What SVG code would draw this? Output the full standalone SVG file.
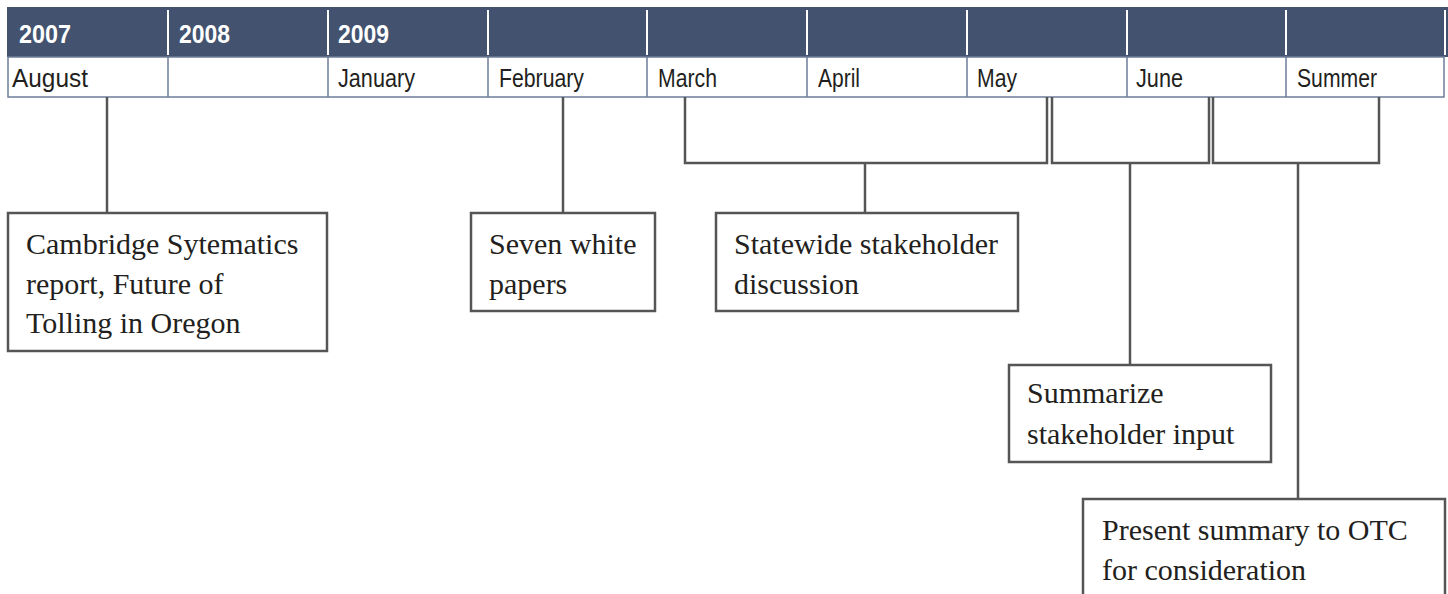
<svg xmlns="http://www.w3.org/2000/svg" width="1448" height="594" viewBox="0 0 1448 594">
<style>
.band{fill:#43536f}
.bdiv{stroke:#ffffff;stroke-width:2}
.row{fill:#ffffff;stroke:#6d7d98;stroke-width:1.5}
.rdiv{stroke:#6d7d98;stroke-width:1.5}
.yr{font-family:"Liberation Sans Narrow","Liberation Sans",Arial,sans-serif;font-size:26px;font-weight:bold;fill:#ffffff}
.mo{font-family:"Liberation Sans Narrow","Liberation Sans",Arial,sans-serif;font-size:26px;fill:#231f20}
.conn{fill:none;stroke:#555555;stroke-width:2.5}
.box{fill:#ffffff;stroke:#555555;stroke-width:2.5}
.bt{font-family:"Liberation Serif","Times New Roman",serif;font-size:30px;fill:#231f20}
</style>
<g id="header">
<rect class="band" x="7" y="7" width="1441" height="50"/>
<g>
<line class="bdiv" x1="168" y1="10" x2="168" y2="55"/>
<line class="bdiv" x1="328" y1="10" x2="328" y2="55"/>
<line class="bdiv" x1="488" y1="10" x2="488" y2="55"/>
<line class="bdiv" x1="647" y1="10" x2="647" y2="55"/>
<line class="bdiv" x1="807" y1="10" x2="807" y2="55"/>
<line class="bdiv" x1="967" y1="10" x2="967" y2="55"/>
<line class="bdiv" x1="1127" y1="10" x2="1127" y2="55"/>
<line class="bdiv" x1="1286" y1="10" x2="1286" y2="55"/>
<line class="bdiv" x1="1445" y1="10" x2="1445" y2="55"/>
</g>
<text class="yr" x="19" y="43" textLength="52" lengthAdjust="spacingAndGlyphs">2007</text>
<text class="yr" x="179" y="43" textLength="51" lengthAdjust="spacingAndGlyphs">2008</text>
<text class="yr" x="338" y="43" textLength="51" lengthAdjust="spacingAndGlyphs">2009</text>
<rect class="row" x="8" y="57" width="1436" height="40"/>
<line class="rdiv" x1="168" y1="57" x2="168" y2="97"/>
<line class="rdiv" x1="328" y1="57" x2="328" y2="97"/>
<line class="rdiv" x1="488" y1="57" x2="488" y2="97"/>
<line class="rdiv" x1="647" y1="57" x2="647" y2="97"/>
<line class="rdiv" x1="807" y1="57" x2="807" y2="97"/>
<line class="rdiv" x1="967" y1="57" x2="967" y2="97"/>
<line class="rdiv" x1="1127" y1="57" x2="1127" y2="97"/>
<line class="rdiv" x1="1286" y1="57" x2="1286" y2="97"/>
<text class="mo" x="12" y="87" textLength="76" lengthAdjust="spacingAndGlyphs">August</text>
<text class="mo" x="338" y="87" textLength="77" lengthAdjust="spacingAndGlyphs">January</text>
<text class="mo" x="499" y="87" textLength="85" lengthAdjust="spacingAndGlyphs">February</text>
<text class="mo" x="658" y="87" textLength="59" lengthAdjust="spacingAndGlyphs">March</text>
<text class="mo" x="818" y="87" textLength="42" lengthAdjust="spacingAndGlyphs">April</text>
<text class="mo" x="977" y="87" textLength="40" lengthAdjust="spacingAndGlyphs">May</text>
<text class="mo" x="1136" y="87" textLength="47" lengthAdjust="spacingAndGlyphs">June</text>
<text class="mo" x="1297" y="87" textLength="80" lengthAdjust="spacingAndGlyphs">Summer</text>
</g>
<g id="connectors">
<path class="conn" d="M107 97 V213"/>
<path class="conn" d="M563 97 V213"/>
<path class="conn" d="M685 97 V163 H1047 V97"/>
<path class="conn" d="M865 163 V213"/>
<path class="conn" d="M1052 97 V163 H1209 V97"/>
<path class="conn" d="M1130 163 V365"/>
<path class="conn" d="M1213 97 V163 H1379 V97"/>
<path class="conn" d="M1298 163 V499"/>
</g>
<g id="node-cambridge">
<rect class="box" x="8" y="213" width="319" height="138"/>
<text class="bt" x="26" y="254">Cambridge Sytematics</text>
<text class="bt" x="26" y="294">report, Future of</text>
<text class="bt" x="26" y="333">Tolling in Oregon</text>
</g>
<g id="node-white-papers">
<rect class="box" x="471" y="213" width="184" height="98"/>
<text class="bt" x="489" y="254">Seven white</text>
<text class="bt" x="489" y="294">papers</text>
</g>
<g id="node-statewide">
<rect class="box" x="716" y="213" width="302" height="98"/>
<text class="bt" x="734" y="254">Statewide stakeholder</text>
<text class="bt" x="734" y="294">discussion</text>
</g>
<g id="node-summarize">
<rect class="box" x="1009" y="365" width="262" height="97"/>
<text class="bt" x="1027" y="403">Summarize</text>
<text class="bt" x="1027" y="444">stakeholder input</text>
</g>
<g id="node-present">
<rect class="box" x="1083" y="499" width="362" height="110"/>
<text class="bt" x="1102" y="540">Present summary to OTC</text>
<text class="bt" x="1102" y="580">for consideration</text>
</g>
</svg>
